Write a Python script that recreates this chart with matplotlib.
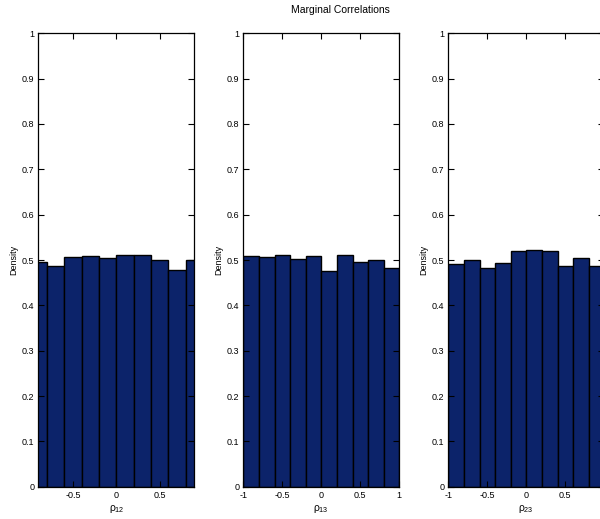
import matplotlib
matplotlib.use('Agg')
import matplotlib.pyplot as plt
import numpy as np

plt.rcParams['font.family'] = ['Liberation Sans', 'DejaVu Sans']
plt.rcParams['axes.unicode_minus'] = False
plt.rcParams['mathtext.fontset'] = 'custom'
plt.rcParams['mathtext.rm'] = 'Liberation Sans'
plt.rcParams['mathtext.it'] = 'Liberation Sans'

# histogram bins for the sampled correlations
bin_edges = [-1.0, -0.8, -0.6, -0.4, -0.2, 0.0, 0.2, 0.4, 0.6, 0.8, 1.0]

# normalised bin heights
dens_12 = [0.495, 0.487, 0.507, 0.509, 0.504, 0.511, 0.512, 0.501, 0.477, 0.501]
dens_13 = [0.509, 0.506, 0.512, 0.503, 0.509, 0.476, 0.510, 0.495, 0.499, 0.483]
dens_23 = [0.492, 0.500, 0.482, 0.493, 0.519, 0.521, 0.520, 0.487, 0.504, 0.486]

labels = [r'$\rho_{12}$', r'$\rho_{13}$', r'$\rho_{23}$']
xlims = [(-0.9, 0.9), (-1, 1), (-1, 1)]
# last panel runs past the right edge of the figure, so its "1" tick is dropped
xticks = [[-0.5, 0, 0.5], [-1, -0.5, 0, 0.5, 1], [-1, -0.5, 0, 0.5]]
yticks = [0, 0.1, 0.2, 0.3, 0.4, 0.5, 0.6, 0.7, 0.8, 0.9, 1]

W, H = 600, 519
fig = plt.figure(figsize=(W / 100, H / 100), dpi=100)

lefts = [38.3, 243.3, 448.3]
ax_w, ax_top, ax_bot = 156.0, 33.3, 486.7

edges = np.array(bin_edges)
for left, dens, lab, xl, xt in zip(lefts, [dens_12, dens_13, dens_23], labels, xlims, xticks):
    ax = fig.add_axes([left / W, (H - ax_bot) / H, ax_w / W, (ax_bot - ax_top) / H])
    ax.bar(edges[:-1], dens, width=np.diff(edges), align='edge',
           color='#0c236a', edgecolor='black', linewidth=1.0)
    ax.set_xlim(xl)
    ax.set_ylim(0, 1)
    ax.set_xticks(xt)
    ax.set_xticklabels(['%g' % t for t in xt])
    ax.set_yticks(yticks)
    ax.set_yticklabels(['%g' % t for t in yticks])
    ax.tick_params(direction='in', length=4.5, width=0.8, labelsize=6.5,
                   top=True, right=True, pad=3, colors='black')
    for s in ax.spines.values():
        s.set_linewidth(0.9)
    ax.set_ylabel('Density', fontsize=6.5)
    ax.yaxis.set_label_coords(-0.13, 0.5)
    ax.set_xlabel(lab, fontsize=7.5, labelpad=2)

fig.text(340 / W, 1 - 10 / H, 'Marginal Correlations', ha='center', va='center', fontsize=7.5)

fig.savefig('out.png', dpi=100)
